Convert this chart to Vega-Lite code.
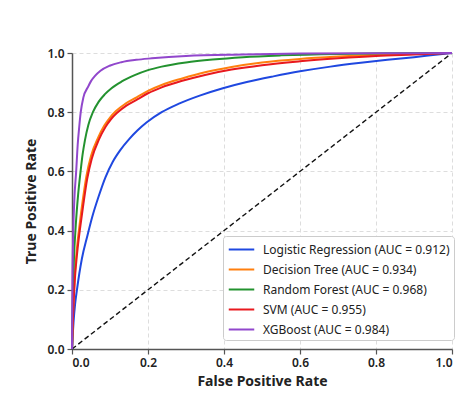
{
  "$schema": "https://vega.github.io/schema/vega-lite/v6.json",
  "width": 380,
  "height": 296,
  "autosize": {"type": "none"},
  "padding": {"left": 72, "top": 53, "right": 10, "bottom": 56},
  "background": "white",
  "config": {
    "view": {"stroke": null},
    "font": "Noto Sans",
    "axis": {
      "domainColor": "#555555", "domainWidth": 1.5, "tickColor": "#555555", "tickWidth": 1.2, "tickSize": 5,
      "labelFontSize": 12, "labelColor": "#222222", "labelFontWeight": 600, "labelPadding": 3,
      "titleFontSize": 14, "titleFontWeight": "bold", "titleColor": "#222222",
      "gridColor": "#dddddd", "gridDash": [4, 3], "gridWidth": 1
    }
  },
  "datasets": {
    "roc": [
      {"model": "Logistic Regression (AUC = 0.912)", "fpr": 0, "tpr": 0},
      {"model": "Logistic Regression (AUC = 0.912)", "fpr": 0.002, "tpr": 0.05},
      {"model": "Logistic Regression (AUC = 0.912)", "fpr": 0.004, "tpr": 0.09},
      {"model": "Logistic Regression (AUC = 0.912)", "fpr": 0.008, "tpr": 0.15},
      {"model": "Logistic Regression (AUC = 0.912)", "fpr": 0.013, "tpr": 0.2},
      {"model": "Logistic Regression (AUC = 0.912)", "fpr": 0.026, "tpr": 0.305},
      {"model": "Logistic Regression (AUC = 0.912)", "fpr": 0.04, "tpr": 0.38},
      {"model": "Logistic Regression (AUC = 0.912)", "fpr": 0.053, "tpr": 0.445},
      {"model": "Logistic Regression (AUC = 0.912)", "fpr": 0.07, "tpr": 0.515},
      {"model": "Logistic Regression (AUC = 0.912)", "fpr": 0.088, "tpr": 0.58},
      {"model": "Logistic Regression (AUC = 0.912)", "fpr": 0.107, "tpr": 0.632},
      {"model": "Logistic Regression (AUC = 0.912)", "fpr": 0.127, "tpr": 0.672},
      {"model": "Logistic Regression (AUC = 0.912)", "fpr": 0.151, "tpr": 0.71},
      {"model": "Logistic Regression (AUC = 0.912)", "fpr": 0.172, "tpr": 0.738},
      {"model": "Logistic Regression (AUC = 0.912)", "fpr": 0.196, "tpr": 0.765},
      {"model": "Logistic Regression (AUC = 0.912)", "fpr": 0.236, "tpr": 0.8},
      {"model": "Logistic Regression (AUC = 0.912)", "fpr": 0.28, "tpr": 0.828},
      {"model": "Logistic Regression (AUC = 0.912)", "fpr": 0.336, "tpr": 0.856},
      {"model": "Logistic Regression (AUC = 0.912)", "fpr": 0.397, "tpr": 0.881},
      {"model": "Logistic Regression (AUC = 0.912)", "fpr": 0.46, "tpr": 0.902},
      {"model": "Logistic Regression (AUC = 0.912)", "fpr": 0.53, "tpr": 0.921},
      {"model": "Logistic Regression (AUC = 0.912)", "fpr": 0.6, "tpr": 0.938},
      {"model": "Logistic Regression (AUC = 0.912)", "fpr": 0.68, "tpr": 0.954},
      {"model": "Logistic Regression (AUC = 0.912)", "fpr": 0.76, "tpr": 0.967},
      {"model": "Logistic Regression (AUC = 0.912)", "fpr": 0.83, "tpr": 0.977},
      {"model": "Logistic Regression (AUC = 0.912)", "fpr": 0.9, "tpr": 0.986},
      {"model": "Logistic Regression (AUC = 0.912)", "fpr": 0.95, "tpr": 0.993},
      {"model": "Logistic Regression (AUC = 0.912)", "fpr": 1, "tpr": 1},
      {"model": "Decision Tree (AUC = 0.934)", "fpr": 0, "tpr": 0},
      {"model": "Decision Tree (AUC = 0.934)", "fpr": 0.003, "tpr": 0.13},
      {"model": "Decision Tree (AUC = 0.934)", "fpr": 0.007, "tpr": 0.24},
      {"model": "Decision Tree (AUC = 0.934)", "fpr": 0.013, "tpr": 0.34},
      {"model": "Decision Tree (AUC = 0.934)", "fpr": 0.02, "tpr": 0.42},
      {"model": "Decision Tree (AUC = 0.934)", "fpr": 0.028, "tpr": 0.5},
      {"model": "Decision Tree (AUC = 0.934)", "fpr": 0.038, "tpr": 0.585},
      {"model": "Decision Tree (AUC = 0.934)", "fpr": 0.05, "tpr": 0.652},
      {"model": "Decision Tree (AUC = 0.934)", "fpr": 0.069, "tpr": 0.715},
      {"model": "Decision Tree (AUC = 0.934)", "fpr": 0.085, "tpr": 0.755},
      {"model": "Decision Tree (AUC = 0.934)", "fpr": 0.1, "tpr": 0.782},
      {"model": "Decision Tree (AUC = 0.934)", "fpr": 0.115, "tpr": 0.803},
      {"model": "Decision Tree (AUC = 0.934)", "fpr": 0.14, "tpr": 0.828},
      {"model": "Decision Tree (AUC = 0.934)", "fpr": 0.17, "tpr": 0.85},
      {"model": "Decision Tree (AUC = 0.934)", "fpr": 0.2, "tpr": 0.872},
      {"model": "Decision Tree (AUC = 0.934)", "fpr": 0.236, "tpr": 0.892},
      {"model": "Decision Tree (AUC = 0.934)", "fpr": 0.29, "tpr": 0.914},
      {"model": "Decision Tree (AUC = 0.934)", "fpr": 0.35, "tpr": 0.935},
      {"model": "Decision Tree (AUC = 0.934)", "fpr": 0.42, "tpr": 0.953},
      {"model": "Decision Tree (AUC = 0.934)", "fpr": 0.5, "tpr": 0.968},
      {"model": "Decision Tree (AUC = 0.934)", "fpr": 0.6, "tpr": 0.98},
      {"model": "Decision Tree (AUC = 0.934)", "fpr": 0.7, "tpr": 0.988},
      {"model": "Decision Tree (AUC = 0.934)", "fpr": 0.8, "tpr": 0.994},
      {"model": "Decision Tree (AUC = 0.934)", "fpr": 0.9, "tpr": 0.998},
      {"model": "Decision Tree (AUC = 0.934)", "fpr": 1, "tpr": 1},
      {"model": "Random Forest (AUC = 0.968)", "fpr": 0, "tpr": 0},
      {"model": "Random Forest (AUC = 0.968)", "fpr": 0.002, "tpr": 0.16},
      {"model": "Random Forest (AUC = 0.968)", "fpr": 0.005, "tpr": 0.3},
      {"model": "Random Forest (AUC = 0.968)", "fpr": 0.01, "tpr": 0.42},
      {"model": "Random Forest (AUC = 0.968)", "fpr": 0.016, "tpr": 0.52},
      {"model": "Random Forest (AUC = 0.968)", "fpr": 0.023, "tpr": 0.605},
      {"model": "Random Forest (AUC = 0.968)", "fpr": 0.028, "tpr": 0.658},
      {"model": "Random Forest (AUC = 0.968)", "fpr": 0.034, "tpr": 0.705},
      {"model": "Random Forest (AUC = 0.968)", "fpr": 0.043, "tpr": 0.757},
      {"model": "Random Forest (AUC = 0.968)", "fpr": 0.055, "tpr": 0.8},
      {"model": "Random Forest (AUC = 0.968)", "fpr": 0.07, "tpr": 0.835},
      {"model": "Random Forest (AUC = 0.968)", "fpr": 0.086, "tpr": 0.86},
      {"model": "Random Forest (AUC = 0.968)", "fpr": 0.104, "tpr": 0.881},
      {"model": "Random Forest (AUC = 0.968)", "fpr": 0.13, "tpr": 0.903},
      {"model": "Random Forest (AUC = 0.968)", "fpr": 0.165, "tpr": 0.925},
      {"model": "Random Forest (AUC = 0.968)", "fpr": 0.2, "tpr": 0.942},
      {"model": "Random Forest (AUC = 0.968)", "fpr": 0.236, "tpr": 0.954},
      {"model": "Random Forest (AUC = 0.968)", "fpr": 0.3, "tpr": 0.968},
      {"model": "Random Forest (AUC = 0.968)", "fpr": 0.37, "tpr": 0.978},
      {"model": "Random Forest (AUC = 0.968)", "fpr": 0.45, "tpr": 0.986},
      {"model": "Random Forest (AUC = 0.968)", "fpr": 0.55, "tpr": 0.992},
      {"model": "Random Forest (AUC = 0.968)", "fpr": 0.7, "tpr": 0.997},
      {"model": "Random Forest (AUC = 0.968)", "fpr": 0.85, "tpr": 0.999},
      {"model": "Random Forest (AUC = 0.968)", "fpr": 1, "tpr": 1},
      {"model": "SVM (AUC = 0.955)", "fpr": 0, "tpr": 0},
      {"model": "SVM (AUC = 0.955)", "fpr": 0.003, "tpr": 0.12},
      {"model": "SVM (AUC = 0.955)", "fpr": 0.007, "tpr": 0.225},
      {"model": "SVM (AUC = 0.955)", "fpr": 0.014, "tpr": 0.33},
      {"model": "SVM (AUC = 0.955)", "fpr": 0.022, "tpr": 0.415},
      {"model": "SVM (AUC = 0.955)", "fpr": 0.03, "tpr": 0.49},
      {"model": "SVM (AUC = 0.955)", "fpr": 0.04, "tpr": 0.575},
      {"model": "SVM (AUC = 0.955)", "fpr": 0.052, "tpr": 0.643},
      {"model": "SVM (AUC = 0.955)", "fpr": 0.071, "tpr": 0.708},
      {"model": "SVM (AUC = 0.955)", "fpr": 0.088, "tpr": 0.75},
      {"model": "SVM (AUC = 0.955)", "fpr": 0.103, "tpr": 0.777},
      {"model": "SVM (AUC = 0.955)", "fpr": 0.118, "tpr": 0.797},
      {"model": "SVM (AUC = 0.955)", "fpr": 0.143, "tpr": 0.822},
      {"model": "SVM (AUC = 0.955)", "fpr": 0.173, "tpr": 0.844},
      {"model": "SVM (AUC = 0.955)", "fpr": 0.2, "tpr": 0.864},
      {"model": "SVM (AUC = 0.955)", "fpr": 0.236, "tpr": 0.884},
      {"model": "SVM (AUC = 0.955)", "fpr": 0.29, "tpr": 0.906},
      {"model": "SVM (AUC = 0.955)", "fpr": 0.35, "tpr": 0.926},
      {"model": "SVM (AUC = 0.955)", "fpr": 0.42, "tpr": 0.944},
      {"model": "SVM (AUC = 0.955)", "fpr": 0.5, "tpr": 0.959},
      {"model": "SVM (AUC = 0.955)", "fpr": 0.6, "tpr": 0.972},
      {"model": "SVM (AUC = 0.955)", "fpr": 0.7, "tpr": 0.982},
      {"model": "SVM (AUC = 0.955)", "fpr": 0.8, "tpr": 0.99},
      {"model": "SVM (AUC = 0.955)", "fpr": 0.9, "tpr": 0.995},
      {"model": "SVM (AUC = 0.955)", "fpr": 1, "tpr": 1},
      {"model": "XGBoost (AUC = 0.984)", "fpr": 0, "tpr": 0},
      {"model": "XGBoost (AUC = 0.984)", "fpr": 0.001, "tpr": 0.2},
      {"model": "XGBoost (AUC = 0.984)", "fpr": 0.003, "tpr": 0.38},
      {"model": "XGBoost (AUC = 0.984)", "fpr": 0.006, "tpr": 0.5},
      {"model": "XGBoost (AUC = 0.984)", "fpr": 0.011, "tpr": 0.6},
      {"model": "XGBoost (AUC = 0.984)", "fpr": 0.015, "tpr": 0.69},
      {"model": "XGBoost (AUC = 0.984)", "fpr": 0.019, "tpr": 0.75},
      {"model": "XGBoost (AUC = 0.984)", "fpr": 0.023, "tpr": 0.8},
      {"model": "XGBoost (AUC = 0.984)", "fpr": 0.03, "tpr": 0.85},
      {"model": "XGBoost (AUC = 0.984)", "fpr": 0.042, "tpr": 0.885},
      {"model": "XGBoost (AUC = 0.984)", "fpr": 0.05, "tpr": 0.905},
      {"model": "XGBoost (AUC = 0.984)", "fpr": 0.06, "tpr": 0.922},
      {"model": "XGBoost (AUC = 0.984)", "fpr": 0.075, "tpr": 0.94},
      {"model": "XGBoost (AUC = 0.984)", "fpr": 0.099, "tpr": 0.957},
      {"model": "XGBoost (AUC = 0.984)", "fpr": 0.13, "tpr": 0.969},
      {"model": "XGBoost (AUC = 0.984)", "fpr": 0.169, "tpr": 0.977},
      {"model": "XGBoost (AUC = 0.984)", "fpr": 0.21, "tpr": 0.982},
      {"model": "XGBoost (AUC = 0.984)", "fpr": 0.3, "tpr": 0.99},
      {"model": "XGBoost (AUC = 0.984)", "fpr": 0.45, "tpr": 0.995},
      {"model": "XGBoost (AUC = 0.984)", "fpr": 0.6, "tpr": 0.998},
      {"model": "XGBoost (AUC = 0.984)", "fpr": 0.8, "tpr": 0.999},
      {"model": "XGBoost (AUC = 0.984)", "fpr": 1, "tpr": 1}
    ],
    "diag": [
      {"fpr": 0, "tpr": 0},
      {"fpr": 1, "tpr": 1}
    ]
  },
  "layer": [
    {
      "data": {"name": "diag"},
      "mark": {"type": "line", "color": "#111111", "strokeWidth": 1.4, "strokeDash": [5, 3]},
      "encoding": {
        "x": {"field": "fpr", "type": "quantitative", "scale": {"domain": [0, 1]},
              "axis": {"title": "False Positive Rate", "values": [0, 0.2, 0.4, 0.6, 0.8, 1.0], "format": ".1f", "titlePadding": 6}},
        "y": {"field": "tpr", "type": "quantitative", "scale": {"domain": [0, 1]},
              "axis": {"title": "True Positive Rate", "values": [0, 0.2, 0.4, 0.6, 0.8, 1.0], "format": ".1f", "titlePadding": 8}}
      }
    },
    {
      "data": {"name": "roc"},
      "mark": {"type": "line", "strokeWidth": 2, "interpolate": "monotone"},
      "encoding": {
        "x": {"field": "fpr", "type": "quantitative"},
        "y": {"field": "tpr", "type": "quantitative"},
        "color": {
          "field": "model", "type": "nominal",
          "scale": {
            "domain": ["Logistic Regression (AUC = 0.912)", "Decision Tree (AUC = 0.934)", "Random Forest (AUC = 0.968)", "SVM (AUC = 0.955)", "XGBoost (AUC = 0.984)"],
            "range": ["#1f48e0", "#ff7f0e", "#23922f", "#e8191e", "#9147cc"]
          },
          "legend": {
            "title": null, "orient": "none", "legendX": 151, "legendY": 183,
            "fillColor": "white", "strokeColor": "#cccccc", "cornerRadius": 3, "padding": 4,
            "symbolType": "M-1.5,0H1.5", "symbolSize": 289, "symbolStrokeWidth": 2, "symbolOffset": 5,
            "labelOffset": 12, "rowPadding": 4, "labelFontSize": 12, "labelColor": "#222222", "labelLimit": 300
          }
        }
      }
    }
  ]
}
